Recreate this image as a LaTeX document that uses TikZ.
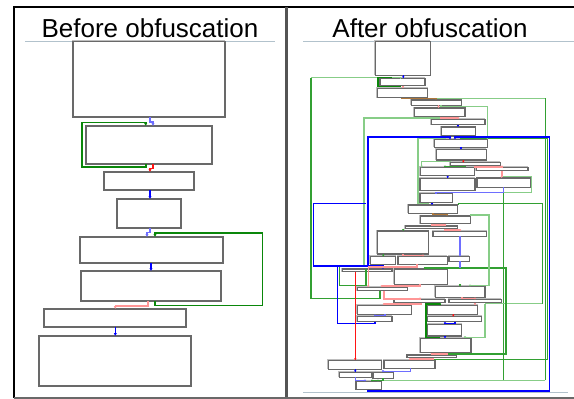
\documentclass[tikz,border=0pt]{standalone}
\usepackage{fontspec}
\setmainfont{Liberation Sans}
\usetikzlibrary{arrows.meta}
\definecolor{boxdark}{RGB}{105,105,105}
\definecolor{boxlight}{RGB}{190,190,190}
\definecolor{dgreen}{RGB}{10,135,10}
\definecolor{mgreen}{RGB}{50,160,50}
\definecolor{lgreen}{RGB}{135,205,135}
\definecolor{dblue}{RGB}{0,0,255}
\definecolor{lblue}{RGB}{110,110,255}
\definecolor{dred}{RGB}{255,20,20}
\definecolor{lred}{RGB}{255,150,150}
\definecolor{brownish}{RGB}{175,120,60}
\definecolor{rule}{RGB}{178,194,204}
\tikzset{
  box/.style={draw=boxdark, line width=1.2pt, fill=white, inner sep=0pt, outer sep=0pt, anchor=north west},
  boxshade/.style={draw=boxlight, line width=1.3pt},
  tip/.style={-{Latex[length=2.8pt,width=3.2pt]}},
  stip/.style={-{Latex[length=1.9pt,width=2.6pt]}},
  bl/.style={draw=dblue, line width=1.5pt},
  lb/.style={draw=lblue, line width=1.3pt},
  gr/.style={draw=dgreen, line width=1.6pt},
  mg/.style={draw=mgreen, line width=1.3pt},
  lg/.style={draw=lgreen, line width=1.3pt},
  rd/.style={draw=dred, line width=1.3pt},
  lr/.style={draw=lred, line width=1.6pt},
  br/.style={draw=brownish, line width=1.3pt},
  title/.style={font=\fontsize{26pt}{30pt}\selectfont, anchor=base, inner sep=0pt},
}
\newcommand\bx[5]{%
  \draw[boxshade] (#2-0.8,#3-0.8) rectangle (#4-0.8,#5-0.8);
  \node[box, minimum width={(#4-#2)*1pt}, minimum height={(#5-#3)*1pt}] (#1) at (#2,#3) {};}
\begin{document}
\begin{tikzpicture}[x=1pt,y=-1pt]
\useasboundingbox (0,0) rectangle (574,399);
\fill[white] (0,0) rectangle (574,399);
% frame
\draw[black, line width=1.3pt] (14,398) -- (14,7) -- (574,7);
\draw[boxdark!80!black, line width=2.4pt] (286.5,7) -- (286.5,399);
\draw[boxdark, line width=2pt] (14,398) -- (574,398);
% titles
\node[title] (t1) at (150,37) {Before obfuscation};
\node[title] (t2) at (430,37) {After obfuscation};
\draw[rule, line width=0.9pt] (25,41) -- (275,41);
\draw[rule, line width=0.9pt] (303,41) -- (574,41);
\draw[rule, line width=0.9pt] (303,392.3) -- (568,392.3);

% ---------------- left panel
\bx{L1}{73}{41.3}{225}{117}
\bx{L2}{86}{126}{212}{164}
\bx{L3}{104}{172}{194}{190}
\bx{L4}{117}{199}{181}{228}
\bx{L5}{80}{237}{223}{263}
\bx{L6}{81}{271}{221}{301}
\bx{L7}{44}{309}{186}{327}
\bx{L8}{39}{336}{191}{386}

\draw[lb, tip] ([xshift=77pt]L1.south west) -- (150,122) -- (153,122) -- ([xshift=67pt]L2.north west);
\draw[gr, tip] ([xshift=59.7pt]L2.south west) -- (145.7,166.7) -- (81.7,166.7) -- (81.7,122.3) -- (145.7,122.3) -- ([xshift=59.7pt]L2.north west);
\draw[rd, tip] ([xshift=67pt]L2.south west) -- (153,168.5) -- (150,168.5) -- ([xshift=46pt]L3.north west);
\draw[bl, tip] ([xshift=46pt]L3.south west) -- ([xshift=33pt]L4.north west);
\draw[lb, tip] ([xshift=33pt]L4.south west) -- (150,232.5) -- (147,232.5) -- ([xshift=67pt]L5.north west);
\draw[gr, tip] ([xshift=74pt]L6.south west) -- (155,305.3) -- (262.3,305.3) -- (262.3,232.7) -- (155,232.7) -- ([xshift=75pt]L5.north west);
\draw[bl, tip] ([xshift=71pt]L5.south west) -- ([xshift=70pt]L6.north west);
\draw[lr, tip] ([xshift=66.7pt]L6.south west) -- (147.7,306) -- (115.3,306) -- ([xshift=71.3pt]L7.north west);
\draw[bl, tip] ([xshift=71.3pt]L7.south west) -- ([xshift=76.3pt]L8.north west);

% ---------------- right panel boxes
\bx{R1}{375.3}{41.3}{430.3}{75.3}
\bx{R2}{380}{78.3}{425}{85.7}
\bx{R3}{377.7}{88.3}{427.7}{97.7}
\bx{R4}{411.3}{100}{461.3}{105.3}
\bx{R5}{414.3}{108}{465}{116.7}
\bx{R6}{431.3}{119.3}{485}{124.7}
\bx{R7}{441.3}{127}{475.7}{136}
\bx{R8}{434.3}{139.3}{487.7}{147.3}
\bx{R9}{436.3}{149.7}{486.3}{160}
\bx{R10}{450.7}{162.7}{500.3}{165.7}
\bx{R11}{476.3}{167.7}{528}{170.7}
\bx{R12}{420.7}{167.7}{474.3}{175.7}
\bx{R13}{420}{178.3}{475}{190.7}
\bx{R14}{477}{178}{530.7}{187.3}
\bx{R15}{420}{193.5}{452.7}{202.7}
\bx{R16}{408.3}{205}{457.7}{213.3}
\bx{R17}{420.7}{216}{470.3}{223.7}
\bx{R18}{405.3}{226}{457.7}{228.7}
\bx{R19}{433}{231.3}{486.7}{236.3}
\bx{R20}{377.3}{231}{428.3}{254}
\bx{R21}{370.3}{256.7}{395.7}{264.3}
\bx{R22}{398}{256.7}{447.3}{264.3}
\bx{R23}{449}{256.7}{469.3}{261.3}
\bx{R24}{342.3}{269}{392}{271.7}
\bx{R25}{394.3}{269}{447.3}{284.3}
\bx{R26}{435.3}{286.7}{485}{297.3}
\bx{R27}{357.3}{287.3}{407.3}{290.7}
\bx{R28}{394}{299.7}{445}{302.7}
\bx{R29}{449}{299.7}{501.3}{302.7}
\bx{R30}{357.3}{305.3}{411.3}{314.3}
\bx{R31}{427.3}{305.3}{477.7}{314.3}
\bx{R32}{357.3}{316.7}{392}{321.7}
\bx{R33}{427.3}{316.7}{481.7}{321.7}
\bx{R34}{427.3}{324.3}{461.7}{336}
\bx{R35}{420.7}{338.3}{471}{352.7}
\bx{R36}{407}{355}{456.7}{357.7}
\bx{R37}{328.3}{360.3}{381.7}{369.3}
\bx{R38}{384}{360.3}{435}{368.3}
\bx{R39}{339.3}{372.3}{371.7}{377.3}
\bx{R40}{373}{372.3}{393.7}{378.3}
\bx{R41}{356}{381.7}{381.3}{389.7}

% ---------------- right panel long edges
% green
\draw[mg, line width=1.6pt] (380,290.7) -- (380,298.5) -- (311,298.5) -- (311,77.5);
\draw[lg] (311,77.5) -- (400.5,77.5) -- (400.5,78.3);
\draw[gr] (400,85.7) -- (400,86.5) -- (378,86.5) -- (378,77.5) -- (392,77.5);
\draw[lg] (437,98.3) -- (545.3,98.3);
\draw[mg] (545.3,98.3) -- (545.3,380.3);
\draw[lg, stip] (545.3,380.3) -- (378,380.3) -- (378,381.7);
\draw[mg, stip] (460,138) -- (547.3,138) -- (547.3,359.3) -- (432,359.3) -- (432,360.3);
\draw[lg] (503.3,176.7) -- (531.7,176.7) -- (531.7,192.5) -- (503.3,192.5);
\draw[mg] (503.3,192.5) -- (503.3,380.3);
\draw[mg] (458.3,205) -- (458.3,203.3) -- (542.3,203.3) -- (542.3,303.7);
\draw[lg] (542.3,303.7) -- (485,303.7);
\draw[lg, stip] (485,303.7) -- (485,337.3) -- (465,337.3) -- (465,338.3);
\draw[mg, line width=1.7pt, stip] (447,354) -- (505.7,354) -- (505.7,267.7) -- (425,267.7) -- (425,269);
\draw[lg, stip] (470.3,215) -- (489,215) -- (489,285.3) -- (470,285.3) -- (470,286.7);
\draw[gr, stip] (440,337.3) -- (425.7,337.3) -- (425.7,304) -- (440,304) -- (440,305.3);
\draw[mg] (366,269) -- (366,285.5) -- (339.3,285.5) -- (339.3,266.5);
\draw[lg] (440.3,118) -- (364.1,118) -- (364.1,265.7);
\draw[lg, stip] (428,202.7) -- (428,203.8) -- (418,203.8) -- (418,138) -- (445,138) -- (445,139.3);
\draw[lg, stip] (441,105.3) -- (441,106.5) -- (487.3,106.5) -- (487.3,139.3);
\draw[lg, stip] (451,161.7) -- (421.7,161.7) -- (421.7,167.7);
% blue
\draw[bl, line width=1.8pt, stip] (368,389.7) -- (368,390.7) -- (549.5,390.7) -- (549.5,137) -- (455,137) -- (455,139.3);
\draw[bl, line width=1.6pt, stip] (375,321.7) -- (375,323.3) -- (337.3,323.3) -- (337.3,265.7) -- (367.8,265.7) -- (367.8,137) -- (450,137) -- (450,139.3);
\draw[bl, line width=1.6pt, stip] (366,203.3) -- (313.3,203.3) -- (313.3,265.7) -- (383,265.7) -- (383,269);
\draw[lb] (503.3,187.3) -- (503.3,192.5) -- (436,192.5) -- (436,193.5);
\draw[lb, stip] (460,236.3) -- (460,256.7);
\draw[lb] (460,261.3) -- (460,267.7);
% red
\draw[rd, stip] (355.3,271.7) -- (355.3,360.3);
\draw[lr, stip] (416.7,264.3) -- (416.7,266.7) -- (368.3,266.7) -- (368.3,287.3);

% ---------------- right panel short edges
\draw[bl, stip] (403.3,75.3) -- (403.3,78.3);
\draw[lr, stip] (403,85.7) -- (403,88.3);
\draw[br, stip] (402,97.7) -- (402,98.3) -- (436,98.3) -- (436,100);
\draw[lr, stip] (438.5,105.3) -- (438.5,108);
\draw[lr, stip] (440.3,116.7) -- (440.3,118) -- (458.3,118) -- (458.3,119.3);
\draw[bl, stip] (458,124.7) -- (458,127);
\draw[bl, stip] (461,147.3) -- (461,149.7);
\draw[rd, stip] (463.3,160) -- (463.3,162.7);
\draw[lr, stip] (475,165.7) -- (475,166.7) -- (501.7,166.7) -- (501.7,167.7);
\draw[lr, stip] (501.7,170.7) -- (501.7,178);
\draw[mg, stip] (465,165.7) -- (465,166.7) -- (445,166.7) -- (445,167.7);
\draw[bl, stip] (447.7,175.7) -- (447.7,178.3);
\draw[bl, stip] (432,202.7) -- (432,205);
\draw[br, stip] (433,213.3) -- (433,214.5) -- (447,214.5) -- (447,216);
\draw[lr, line width=1.9pt, stip] (431.7,223.7) -- (431.7,225) -- (445,225) -- (445,226);
\draw[lr, stip] (445,228.7) -- (445,229.7) -- (460,229.7) -- (460,231.3);
\draw[mg, stip] (403.3,228.7) -- (403.3,231);
\draw[mg, stip] (383.3,254) -- (383.3,256.7);
\draw[lr, stip] (403,254) -- (403,255.3) -- (423,255.3) -- (423,256.7);
\draw[lr, stip] (420,284.3) -- (420,286) -- (381.7,286) -- (381.7,287.3);
\draw[mg, stip] (460,284.3) -- (460,286.7);
\draw[lr, stip] (384,290.7) -- (384,298.7) -- (420,298.7) -- (420,299.7);
\draw[lr, stip] (461.7,297.3) -- (461.7,298.5) -- (475,298.5) -- (475,299.7);
\draw[lr, stip] (421,302.7) -- (421,304) -- (384,304) -- (384,305.3);
\draw[lr, stip] (475,302.7) -- (475,305.3);
\draw[lb, stip] (385,314.3) -- (385,315.5) -- (375,315.5) -- (375,316.7);
\draw[rd, stip] (453.3,314.3) -- (453.3,316.7);
\draw[bl, stip] (455,321.7) -- (455,323.3) -- (445,323.3) -- (445,324.3);
\draw[bl, stip] (445,336) -- (445,338.3);
\draw[lr, stip] (447.3,352.7) -- (447.3,354) -- (431.7,354) -- (431.7,355);
\draw[lr, stip] (433,357.7) -- (433,359) -- (410,359) -- (410,360.3);
\draw[bl, stip] (355.3,369.3) -- (355.3,372.3);
\draw[lb, stip] (410.3,368.3) -- (410.3,371.3) -- (383,371.3) -- (383,372.3);
\draw[lb, stip] (355.3,377.3) -- (355.3,380.3) -- (365,380.3) -- (365,381.7);
\draw[mg, stip] (383,378.3) -- (383,380.3) -- (372,380.3) -- (372,381.7);
\end{tikzpicture}
\end{document}
